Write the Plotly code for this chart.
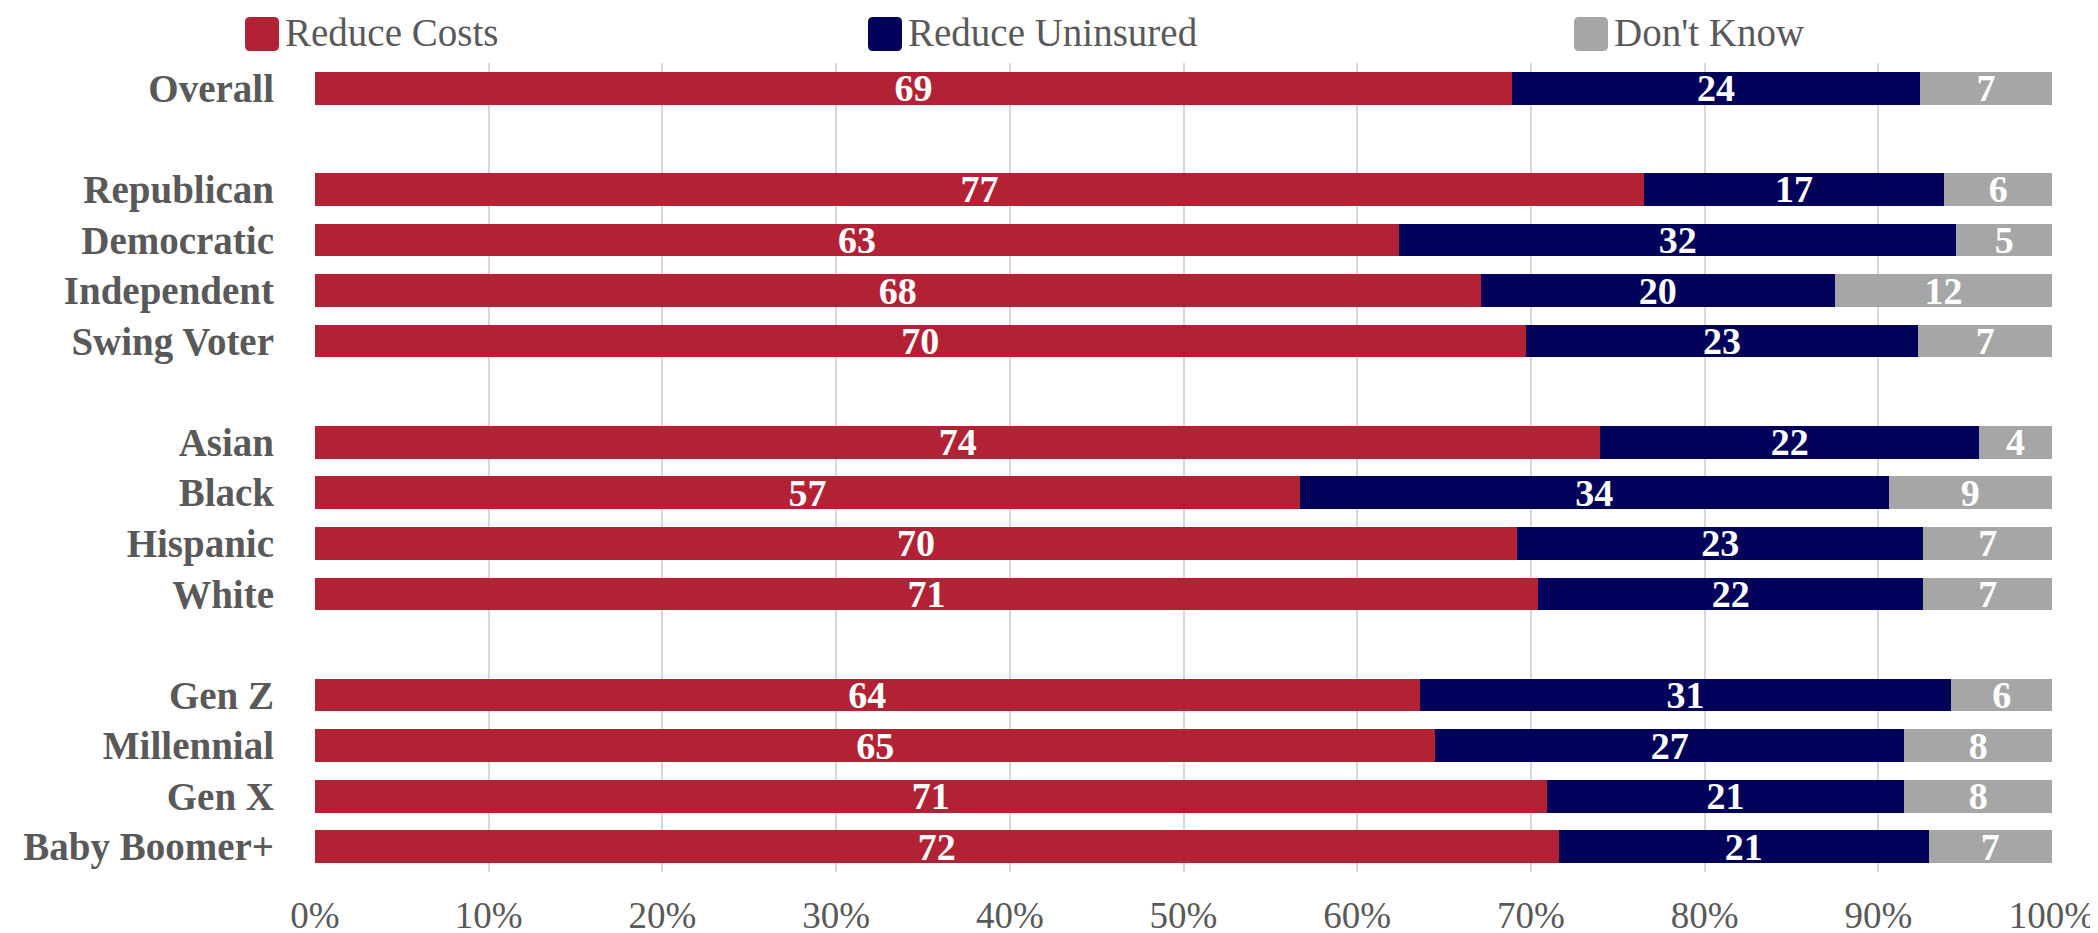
import plotly.graph_objects as go

categories = ["Overall", "Republican", "Democratic", "Independent", "Swing Voter",
              "Asian", "Black", "Hispanic", "White",
              "Gen Z", "Millennial", "Gen X", "Baby Boomer+"]
row_order = ["Overall", " ", "Republican", "Democratic", "Independent", "Swing Voter", "  ",
             "Asian", "Black", "Hispanic", "White", "   ",
             "Gen Z", "Millennial", "Gen X", "Baby Boomer+"]

reduce_costs = [68.9, 76.5, 62.4, 67.1, 69.7, 74.0, 56.7, 69.2, 70.4, 63.6, 64.5, 70.9, 71.6]
reduce_uninsured = [23.5, 17.3, 32.1, 20.4, 22.6, 21.8, 33.9, 23.4, 22.2, 30.6, 27.0, 20.6, 21.3]
dont_know = [7.6, 6.2, 5.5, 12.5, 7.7, 4.2, 9.4, 7.4, 7.4, 5.8, 8.5, 8.5, 7.1]

reduce_costs_labels = [69, 77, 63, 68, 70, 74, 57, 70, 71, 64, 65, 71, 72]
reduce_uninsured_labels = [24, 17, 32, 20, 23, 22, 34, 23, 22, 31, 27, 21, 21]
dont_know_labels = [7, 6, 5, 12, 7, 4, 9, 7, 7, 6, 8, 8, 7]

series_names = ["Reduce Costs", "Reduce Uninsured", "Don't Know"]
series_colors = ["#B22234", "#02025A", "#A6A6A6"]
x_tick_values = list(range(0, 101, 10))
x_tick_labels = [f"{v}%" for v in x_tick_values]

FONT = "Liberation Serif"
W, H = 2098, 933
ML, MR, MT, MB = 307, 54, 55, 69

fig = go.Figure()
for name, vals, labs, col in zip(series_names,
                                 [reduce_costs, reduce_uninsured, dont_know],
                                 [reduce_costs_labels, reduce_uninsured_labels, dont_know_labels],
                                 series_colors):
    fig.add_trace(go.Bar(
        y=categories, x=vals, name=name, orientation="h",
        marker=dict(color=col, line=dict(width=0)),
        text=[str(v) for v in labs], textposition="inside", textangle=0,
        insidetextanchor="middle", constraintext="none",
        textfont=dict(family=FONT, size=38, color="white", weight="bold"),
        showlegend=False, hoverinfo="skip",
    ))

# custom legend (large rounded swatches)
plot_w = W - ML - MR
plot_h = H - MT - MB
def px_to_paper_x(px):
    return (px - ML) / plot_w
def px_to_paper_y(py):
    return (H - MB - py) / plot_h

legend_swatch_left = [237, 860, 1566]
sw = 34
sy0, sy1 = 9, 43
r = 5
for name, col, left in zip(series_names, series_colors, legend_swatch_left):
    x0, x1 = px_to_paper_x(left), px_to_paper_x(left + sw)
    y0, y1 = px_to_paper_y(sy1), px_to_paper_y(sy0)
    rx = r / plot_w
    ry = r / plot_h
    path = (f"M {x0+rx},{y0} L {x1-rx},{y0} Q {x1},{y0} {x1},{y0+ry} "
            f"L {x1},{y1-ry} Q {x1},{y1} {x1-rx},{y1} L {x0+rx},{y1} "
            f"Q {x0},{y1} {x0},{y1-ry} L {x0},{y0+ry} Q {x0},{y0} {x0+rx},{y0} Z")
    fig.add_shape(type="path", path=path, xref="paper", yref="paper",
                  fillcolor=col, line=dict(width=0), layer="above")
    fig.add_annotation(x=px_to_paper_x(left + sw + 4), y=px_to_paper_y(25),
                       xref="paper", yref="paper", xanchor="left", yanchor="middle",
                       text=name, showarrow=False,
                       font=dict(family=FONT, size=39, color="#595959"))

fig.update_layout(
    width=W, height=H,
    barmode="stack", bargap=0.353,
    plot_bgcolor="white", paper_bgcolor="white",
    margin=dict(l=ML, r=MR, t=MT, b=MB, autoexpand=False),
    font=dict(family=FONT, color="#595959"),
    xaxis=dict(range=[0, 100], tickvals=x_tick_values, ticktext=x_tick_labels,
               showgrid=True, gridcolor="#D9D9D9", gridwidth=2,
               zeroline=False, showline=False, ticks="",
               tickfont=dict(family=FONT, size=37, color="#595959"),
               ticklabelstandoff=18, automargin=False, fixedrange=True),
    yaxis=dict(categoryorder="array", categoryarray=row_order, type="category",
               autorange="reversed", showgrid=False, zeroline=False, showline=False, ticks="",
               tickfont=dict(family=FONT, size=39, color="#595959", weight="bold"),
               ticklabelstandoff=40, automargin=False, fixedrange=True),
)

fig.write_html("out.html")
